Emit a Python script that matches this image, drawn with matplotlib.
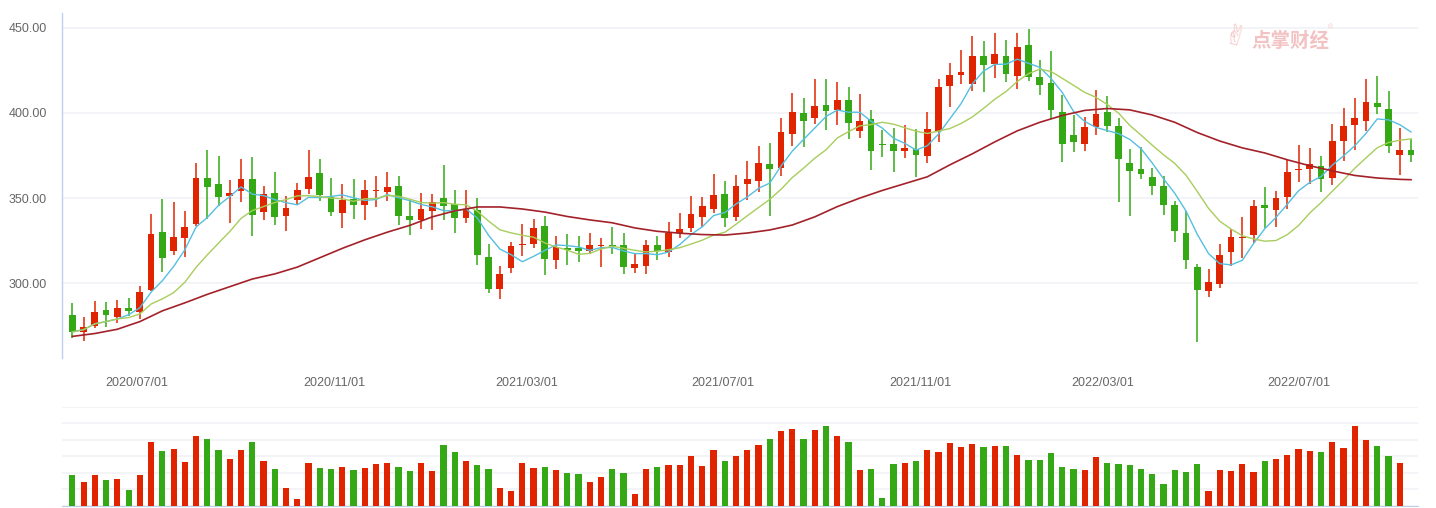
import numpy as np
import pandas as pd
import matplotlib
matplotlib.use("Agg")
import matplotlib.pyplot as plt

plt.rcParams['font.family'] = ['Liberation Sans', 'Noto Sans CJK SC', 'DejaVu Sans']

# weekly candles (Friday dates), the Spring Festival week 2022 has no trading
dates = pd.date_range('2020-05-22', periods=121, freq='W-FRI')
dates = dates[dates != pd.Timestamp('2022-02-04')]

opens = [281.2, 271.4, 275.1, 284.1, 280.2, 285.3, 283.0, 295.9, 330.0, 319.0,
         326.6, 334.7, 361.7, 358.2, 351.3, 354.2, 361.1, 341.9, 352.9, 339.6,
         349.0, 355.4, 364.6, 350.7, 341.3, 349.4, 346.0, 354.2, 353.7, 357.0,
         339.4, 337.2, 342.5, 349.9, 346.4, 338.4, 342.9, 315.3, 296.7, 309.0,
         322.5, 323.1, 333.5, 313.7, 320.6, 320.6, 319.0, 321.9, 322.3, 322.3,
         309.0, 310.2, 322.3, 318.4, 329.6, 332.5, 338.8, 343.7, 352.3, 339.0,
         358.4, 360.1, 369.9, 367.8, 387.7, 399.9, 397.1, 404.6, 401.6, 407.5,
         389.5, 396.3, 381.5, 381.7, 377.7, 378.7, 374.8, 389.3, 415.9, 422.4,
         417.1, 433.4, 428.9, 433.4, 421.8, 439.8, 421.0, 417.5, 400.5, 386.9,
         381.9, 391.6, 400.5, 392.2, 370.5, 367.0, 362.3, 357.0, 345.8, 329.4,
         309.4, 295.5, 299.6, 318.4, 326.6, 328.4, 345.8, 343.1, 350.7, 366.6,
         367.2, 368.7, 361.9, 383.6, 393.0, 395.4, 405.7, 402.2, 375.4, 378.1]
closes = [271.4, 274.2, 283.0, 281.4, 285.3, 283.8, 294.7, 328.8, 314.9, 327.0,
          332.9, 361.7, 356.6, 350.7, 352.9, 361.1, 340.2, 352.3, 339.0, 344.1,
          354.6, 362.3, 351.9, 341.9, 348.8, 346.0, 354.6, 354.6, 356.4, 339.6,
          337.2, 343.5, 347.6, 345.4, 338.4, 343.5, 316.7, 296.7, 305.3, 321.7,
          322.9, 332.3, 314.3, 321.2, 319.8, 319.0, 322.3, 322.3, 321.7, 309.6,
          311.2, 322.3, 319.0, 329.6, 331.7, 340.5, 345.2, 351.7, 338.4, 357.0,
          361.1, 370.5, 367.2, 388.7, 400.5, 395.4, 403.9, 401.2, 407.5, 394.2,
          395.2, 377.7, 380.9, 377.7, 379.3, 375.4, 390.5, 415.1, 422.2, 424.0,
          433.4, 428.3, 434.5, 423.0, 438.6, 421.2, 416.5, 401.8, 381.9, 383.0,
          391.6, 399.3, 392.4, 373.0, 366.0, 364.3, 357.2, 346.0, 330.7, 313.7,
          296.1, 300.6, 316.5, 327.0, 327.2, 345.2, 344.2, 349.9, 365.2, 367.0,
          369.9, 361.3, 383.4, 392.2, 396.9, 406.3, 403.6, 380.7, 378.1, 375.4]
highs = [288.3, 280.0, 289.4, 288.9, 290.0, 291.2, 298.2, 340.5, 349.4, 347.6,
         342.3, 370.5, 378.1, 374.6, 360.5, 372.9, 374.0, 357.0, 365.2, 351.1,
         358.8, 378.1, 372.9, 361.7, 358.2, 361.1, 360.5, 362.9, 365.2, 362.9,
         349.4, 352.9, 352.3, 369.3, 354.6, 354.6, 349.9, 323.3, 310.0, 324.1,
         334.6, 337.6, 339.4, 327.6, 328.8, 327.6, 329.4, 326.4, 332.9, 329.4,
         317.8, 325.5, 327.6, 336.0, 341.1, 351.1, 350.5, 364.0, 359.9, 363.4,
         371.7, 380.5, 382.2, 396.9, 411.6, 408.7, 419.8, 419.8, 418.1, 415.1,
         411.0, 401.6, 390.1, 391.1, 392.8, 390.5, 400.5, 419.8, 429.2, 436.9,
         445.3, 442.2, 446.9, 442.8, 446.9, 449.2, 431.0, 436.3, 410.4, 398.7,
         397.5, 413.4, 409.9, 396.9, 378.7, 379.9, 367.6, 362.9, 348.2, 342.3,
         311.2, 308.4, 322.9, 331.7, 338.8, 348.8, 356.4, 354.0, 372.3, 381.1,
         379.3, 374.6, 393.4, 402.8, 408.7, 419.8, 421.6, 412.8, 391.1, 384.6]
lows = [267.9, 266.1, 273.8, 274.4, 276.7, 280.8, 279.1, 295.5, 306.7, 316.7,
        315.5, 333.9, 337.8, 345.4, 335.5, 347.8, 327.8, 337.2, 334.3, 330.8,
        346.6, 352.5, 348.4, 339.6, 332.5, 337.8, 337.2, 344.8, 348.4, 334.3,
        328.4, 331.9, 331.3, 337.2, 329.6, 335.5, 310.8, 294.3, 290.8, 306.1,
        316.1, 320.8, 304.9, 308.4, 310.8, 312.5, 317.2, 309.6, 317.2, 305.5,
        306.1, 305.5, 313.7, 315.5, 326.6, 330.0, 332.9, 341.1, 333.1, 336.6,
        348.9, 353.7, 339.5, 363.1, 380.5, 380.1, 393.6, 390.1, 393.0, 384.8,
        385.4, 366.6, 374.2, 365.4, 373.6, 362.5, 370.7, 383.2, 403.6, 417.1,
        413.0, 412.4, 420.6, 418.3, 414.2, 418.9, 410.6, 396.5, 371.3, 377.2,
        377.7, 387.2, 388.9, 347.8, 339.6, 361.3, 351.9, 340.1, 324.3, 308.4,
        265.5, 292.0, 297.3, 310.2, 314.9, 323.7, 332.5, 333.1, 343.7, 359.5,
        358.4, 353.7, 357.8, 371.9, 378.3, 389.5, 399.5, 376.6, 363.6, 371.3]

# volume of the weeks (the current week has no volume yet)
volumes = [1.87, 1.45, 1.87, 1.57, 1.63, 0.97, 1.87, 3.86, 3.32, 3.44,
           2.66, 4.23, 4.04, 3.38, 2.84, 3.38, 3.86, 2.72, 2.23, 1.09,
           0.42, 2.60, 2.29, 2.23, 2.35, 2.17, 2.29, 2.54, 2.60, 2.35,
           2.11, 2.60, 2.11, 3.68, 3.26, 2.72, 2.47, 2.23, 1.09, 0.91,
           2.60, 2.29, 2.35, 2.17, 1.99, 1.93, 1.45, 1.75, 2.23, 1.99,
           0.72, 2.23, 2.35, 2.47, 2.47, 3.02, 2.41, 3.38, 2.72, 3.02,
           3.38, 3.68, 4.04, 4.53, 4.65, 4.04, 4.59, 4.83, 4.23, 3.86,
           2.17, 2.23, 0.48, 2.54, 2.60, 2.72, 3.38, 3.26, 3.80, 3.56,
           3.74, 3.56, 3.62, 3.62, 3.08, 2.78, 2.78, 3.20, 2.35, 2.23,
           2.17, 2.96, 2.60, 2.54, 2.47, 2.23, 1.93, 1.33, 2.17, 2.05,
           2.54, 0.91, 2.17, 2.11, 2.54, 2.05, 2.72, 2.84, 3.08, 3.44,
           3.32, 3.26, 3.86, 3.50, 4.83, 3.98, 3.62, 3.02, 2.60]

# long moving average, every second week
ma_long_idx = list(range(0, 120, 2)) + [119]
ma_long = [268.8, 270.5, 273.0, 277.5, 283.8, 288.5, 293.5, 298.0, 302.5, 305.5,
           309.5, 315.0, 320.5, 325.5, 330.0, 334.0, 339.0, 342.5, 344.8, 344.8,
           343.6, 341.8, 339.2, 337.2, 335.5, 332.5, 330.5, 329.4, 328.6, 328.3,
           329.5, 331.3, 334.2, 339.0, 345.0, 350.0, 354.5, 358.5, 362.5, 369.5,
           376.0, 383.0, 389.5, 394.5, 398.5, 401.5, 402.6, 401.8, 398.8, 394.5,
           388.5, 383.5, 379.5, 376.5, 372.5, 369.0, 366.0, 363.3, 361.8, 361.0,
           360.8]

label_dates = pd.to_datetime(['2020-07-01', '2020-11-01', '2021-03-01', '2021-07-01',
                              '2021-11-01', '2022-03-01', '2022-07-01'])
y_ticks = [300, 350, 400, 450]

RED = '#e02400'
GREEN = '#34a915'

df = pd.DataFrame({'open': opens, 'close': closes, 'high': highs, 'low': lows}, index=dates)
x = np.arange(len(df))
up = df['close'] >= df['open']
colors = np.where(up, RED, GREEN)
ma5 = df['close'].rolling(5, min_periods=1).mean()
ma10 = df['close'].rolling(10, min_periods=1).mean()

fig = plt.figure(figsize=(14.36, 5.08), dpi=100)
ax = fig.add_axes([62 / 1436, 1 - 357.7 / 508, 1356 / 1436, 344.4 / 508])
axv = fig.add_axes([62 / 1436, 1 - 506 / 508, 1356 / 1436, 99.3 / 508])

# candles
body_low = np.minimum(df['open'], df['close'])
body_h = np.maximum(np.abs(df['close'] - df['open']), 0.7)
ax.vlines(x, df['low'], df['high'], colors=colors, linewidth=1.1, zorder=3)
ax.bar(x, body_h, bottom=body_low, width=0.6, color=colors, linewidth=0, zorder=4)

ax.plot(x, ma5, color='#55bfe0', linewidth=1.0, zorder=5)
ax.plot(x, ma10, color='#a8cd5c', linewidth=1.0, zorder=5)
ax.plot(ma_long_idx, ma_long, color='#a3222a', linewidth=1.2, zorder=5)

xlim = (-0.92, 119.62)
ax.set_xlim(*xlim)
ax.set_ylim(256.3, 458.5)
ax.set_yticks(y_ticks)
ax.set_yticklabels([f'{v:.2f}' for v in y_ticks])
tick_pos = np.interp(label_dates.values.astype('int64'), dates.values.astype('int64'), x)
ax.set_xticks(tick_pos)
ax.set_xticklabels([d.strftime('%Y/%m/%d') for d in label_dates])
ax.tick_params(axis='both', length=0, labelsize=9, labelcolor='#666666')
ax.tick_params(axis='x', pad=14)
ax.tick_params(axis='y', pad=11)
ax.grid(axis='y', color='#f1f2f6', linewidth=1.2, zorder=0)
for s in ['top', 'right', 'bottom']:
    ax.spines[s].set_visible(False)
ax.spines['left'].set_color('#bdd0ec')
ax.spines['left'].set_linewidth(1.0)

# volume
vx = np.arange(len(volumes))
axv.bar(vx, volumes, width=0.55, color=colors[:len(volumes)], linewidth=0, zorder=3)
axv.set_xlim(*xlim)
axv.set_ylim(0, 6)
axv.set_yticks(range(7))
axv.set_xticks([])
axv.tick_params(axis='y', length=0, labelleft=False)
axv.grid(axis='y', color='#f1f2f6', linewidth=1.2, zorder=0)
for s in ['top', 'right', 'left']:
    axv.spines[s].set_visible(False)
axv.spines['bottom'].set_color('#bdd0ec')

# watermark
fig.text(1234 / 1436, 1 - 38 / 508, '✌', family=['DejaVu Sans'], fontsize=20,
         color='#f4c6c6', va='center', ha='center', rotation=-15)
fig.text(1251 / 1436, 1 - 41.5 / 508, '点掌财经', family=['Noto Sans CJK SC', 'DejaVu Sans'],
         fontsize=14, fontweight='bold', color='#f3c2c2', va='center', ha='left')
fig.text(1328 / 1436, 1 - 28 / 508, '®', fontsize=5, color='#f4caca', va='center', ha='left')

fig.savefig('out.png', dpi=100)
